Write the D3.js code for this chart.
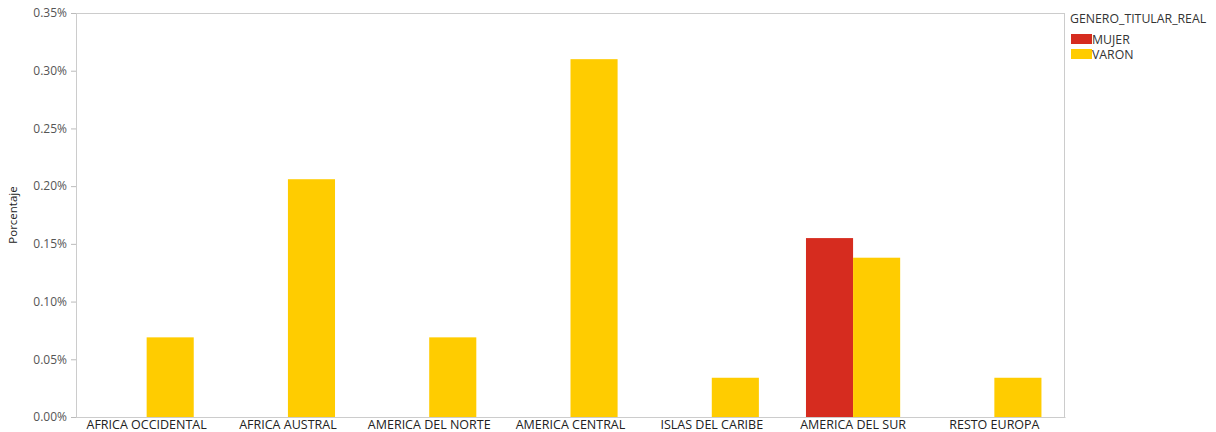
<!DOCTYPE html>
<html><head><meta charset="utf-8">
<script src="https://cdn.jsdelivr.net/npm/d3@7"></script>
<style>body{margin:0;background:#fff}svg{display:block}text{font-family:"Open Sans",sans-serif}</style>
</head><body><svg id="c" width="1216" height="432"></svg>
<script>
const categories = ["AFRICA OCCIDENTAL","AFRICA AUSTRAL","AMERICA DEL NORTE","AMERICA CENTRAL","ISLAS DEL CARIBE","AMERICA DEL SUR","RESTO EUROPA"];
const series = ["MUJER","VARON"];
const mujer = [null,null,null,null,null,0.155,null];
const varon = [0.069,0.206,0.069,0.310,0.034,0.138,0.034];
const yTicks = [0,0.05,0.10,0.15,0.20,0.25,0.30,0.35];
const colors = ["#D62C1F","#FFCC00"];
const legendTitle = "GENERO_TITULAR_REAL";
const yTitle = "Porcentaje";

const svg = d3.select("#c");
const L=76,R=1065,T=13,B=417;
const x = d3.scaleBand().domain(categories).range([L,R]).padding(0);
const xs = d3.scaleBand().domain(series).range([x.bandwidth()/6, x.bandwidth()*5/6]).padding(0);
const y = d3.scaleLinear().domain([0,0.35]).range([B,T]);
const col = d3.scaleOrdinal().domain(series).range(colors);

svg.append("rect").attr("x",L+0.5).attr("y",T+0.5).attr("width",R-L-1).attr("height",B-T).attr("fill","none").attr("stroke","#ccc");

const data = [];
categories.forEach((c,i)=>{[mujer,varon].forEach((arr,j)=>{ if(arr[i]!=null) data.push({c,s:series[j],v:arr[i]}); });});
svg.append("g").selectAll("rect").data(data).join("rect")
  .attr("x",d=>x(d.c)+xs(d.s)).attr("width",xs.bandwidth())
  .attr("y",d=>y(d.v)).attr("height",d=>B-y(d.v)).attr("fill",d=>col(d.s));

const ya = svg.append("g").attr("transform",`translate(${L},0)`)
  .call(d3.axisLeft(y).tickValues(yTicks).tickFormat(d=>d.toFixed(2)+"%").tickSize(5).tickPadding(4));
ya.select(".domain").attr("stroke","#ccc");
ya.selectAll(".tick line").attr("stroke","#bbb");
ya.selectAll("text").attr("fill","#555").attr("font-size",12);

const xa = svg.append("g").attr("transform",`translate(0,${B})`)
  .call(d3.axisBottom(x).tickSize(0).tickPadding(2));
xa.select(".domain").attr("stroke","#ccc");
xa.selectAll("text").attr("fill","#222").attr("font-size",12.5).attr("dy","0.8em");

svg.append("text").attr("transform",`translate(17,215) rotate(-90)`).attr("text-anchor","middle")
  .attr("font-size",11.5).attr("fill","#222").text(yTitle);

const lg = svg.append("g").attr("transform","translate(1070,0)");
lg.append("text").attr("x",0).attr("y",23).attr("font-size",12.3).attr("fill","#333").text(legendTitle);
series.forEach((s,i)=>{
  lg.append("rect").attr("x",1).attr("y",34+i*15).attr("width",21).attr("height",10).attr("fill",colors[i]);
  lg.append("text").attr("x",22).attr("y",43.5+i*15).attr("font-size",12.3).attr("fill","#333").text(s);
});
</script></body></html>
